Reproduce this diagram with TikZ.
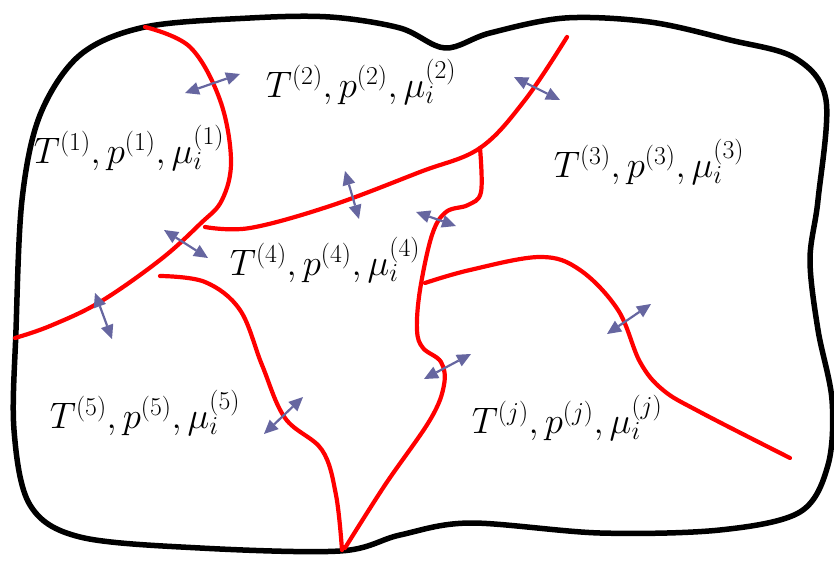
\documentclass[tikz,border=0pt]{standalone}
\usepackage{fix-cm}
\usetikzlibrary{arrows.meta}
\definecolor{arr}{RGB}{102,102,160}
\begin{document}
\begin{tikzpicture}[x=1bp,y=-1bp,
  bound/.style={line width=5.5bp,black,line join=round},
  wall/.style={line width=4.2bp,red,line cap=round,line join=round},
  tip/.tip={Triangle[length=14bp,width=13bp,line width=0pt]},
  flux/.style={line width=2.2bp,arr,tip-tip},
  lab/.style={font=\fontsize{37}{40}\selectfont,inner sep=0pt}]
\useasboundingbox (0,0) rectangle (834,562);
% outer boundary
\draw[bound] plot[smooth cycle,tension=0.55] coordinates {
 (145,27) (250,18) (330,17) (400,28) (445,48) (490,33) (565,18) (650,22) (730,40) (795,58) (826,100)
 (818,200) (810,260) (818,330) (832,400) (828,465) (800,512) (720,530) (600,533) (470,523)
 (400,535) (340,551) (200,548) (80,537) (30,505) (14,430) (16,330) (22,200) (40,115) (80,55)};
% red walls
\draw[wall] plot[smooth,tension=0.6] coordinates {(145,27) (190,47) (220,100) (231,160) (222,200) (200,224) (160,260) (100,302) (50,326) (15,338)};
\draw[wall] plot[smooth,tension=0.6] coordinates {(205,227) (250,228) (330,206) (420,172) (480,148) (525,100) (567,37)};
\draw[wall] plot[smooth,tension=0.6] coordinates {(480,148) (481,192) (468,205) (446,212) (432,235) (420,290) (417,330) (423,348) (441,362) (444,385) (430,420) (385,485) (345,548)};
\draw[wall] plot[smooth,tension=0.6] coordinates {(160,276) (205,282) (240,310) (262,365) (285,418) (322,450) (336,495) (342,550)};
\draw[wall] plot[smooth,tension=0.6] coordinates {(425,283) (470,270) (540,257) (580,270) (618,310) (640,362) (663,390) (700,412) (790,458)};
% flux arrows
\coordinate (a1) at (185,93);  \coordinate (b1) at (240,74);
\coordinate (a2) at (514,77);  \coordinate (b2) at (560,100);
\coordinate (a3) at (345,171); \coordinate (b3) at (359,219);
\coordinate (a4) at (164,230); \coordinate (b4) at (208,258);
\coordinate (a5) at (95,293);  \coordinate (b5) at (112,339);
\coordinate (a6) at (416,212); \coordinate (b6) at (456,226);
\coordinate (a7) at (424,379); \coordinate (b7) at (471,354);
\coordinate (a8) at (607,334); \coordinate (b8) at (651,304);
\coordinate (a9) at (264,434); \coordinate (b9) at (303,397);
\foreach \i in {1,...,9}{\draw[flux] (a\i) -- (b\i);}
% labels
\node[lab] (l1) at (129,148) {$T^{(1)},p^{(1)},\mu_i^{(1)}$};
\node[lab] (l2) at (361,82) {$T^{(2)},p^{(2)},\mu_i^{(2)}$};
\node[lab] (l3) at (649,162) {$T^{(3)},p^{(3)},\mu_i^{(3)}$};
\node[lab] (l4) at (325,260) {$T^{(4)},p^{(4)},\mu_i^{(4)}$};
\node[lab] (l5) at (145,413) {$T^{(5)},p^{(5)},\mu_i^{(5)}$};
\node[lab] (l6) at (567,418) {$T^{(j)},p^{(j)},\mu_i^{(j)}$};
\end{tikzpicture}
\end{document}
